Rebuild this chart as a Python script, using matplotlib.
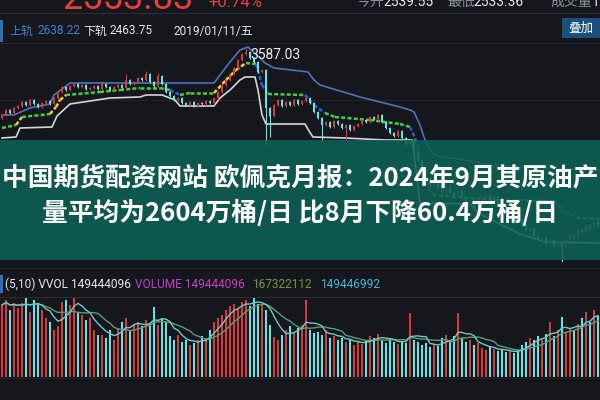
import matplotlib
matplotlib.use('Agg')
import matplotlib.pyplot as plt
import numpy as np
from matplotlib.patches import Rectangle

BG = '#15171d'
RED = '#d83a3a'
CYAN = '#62e6e6'

# ---------------- data ----------------
closes = [
    3250, 3275, 3260, 3285, 3295, 3315, 3300, 3325, 3305, 3290,
    3310, 3320, 3305, 3335, 3365, 3390, 3375, 3395, 3405, 3390,
    3400, 3380, 3385, 3395, 3380, 3405, 3390, 3375, 3390, 3400,
    3385, 3425, 3405, 3415, 3435, 3425, 3455, 3415, 3395, 3445,
    3405, 3365, 3345, 3325, 3335, 3310, 3300, 3315, 3295, 3310,
    3305, 3320, 3310, 3335, 3365, 3400, 3425, 3455, 3485, 3525,
    3555, 3565, 3535, 3515, 3465, 3475, 3285, 3245, 3300, 3325,
    3295, 3315, 3300, 3325, 3305, 3320, 3335, 3310, 3265, 3235,
    3200, 3215, 3190, 3220, 3205, 3185, 3200, 3175, 3195, 3205,
    3225, 3215, 3240, 3230, 3250, 3215, 3185, 3160, 3145, 3170,
    3135, 3105, 3125, 3065, 3025, 2975, 2935, 2900, 2925, 2885,
    2865, 2895, 2860, 2840, 2875, 2835, 2805, 2825, 2790, 2815,
    2835, 2850, 2825, 2845, 2810, 2790, 2765, 2780, 2745, 2725,
    2700, 2675, 2685, 2645, 2625, 2635, 2605, 2625, 2595, 2615,
    2585, 2625, 2650, 2635, 2675, 2665, 2700, 2685, 2715, 2695,
]
first_open = 3235
special_high = {25: 3420, 31: 3455, 36: 3470, 39: 3460, 61: 3587.03}
special_low = {66: 3100, 67: 3140, 80: 3125, 86: 3125, 140: 2515}

volumes = [
    360, 385, 335, 370, 345, 370, 395, 325, 385, 360,
    335, 295, 275, 235, 255, 375, 385, 360, 395, 325,
    310, 285, 295, 235, 210, 210, 195, 235, 185, 245,
    275, 295, 235, 260, 275, 255, 285, 265, 350, 260,
    295, 275, 205, 185, 210, 175, 185, 160, 170, 185,
    205, 195, 235, 275, 295, 310, 335, 355, 365, 345,
    375, 385, 355, 395, 365, 360, 335, 260, 200, 185,
    210, 235, 255, 225, 245, 260, 385, 235, 220, 225,
    210, 235, 195, 205, 185, 195, 175, 185, 160, 175,
    165, 185, 205, 195, 215, 185, 170, 195, 175, 165,
    180, 170, 320, 185, 175, 160, 170, 150, 165, 155,
    195, 210, 185, 205, 320, 195, 175, 185, 160, 170,
    145, 135, 150, 140, 130, 135, 125, 130, 120, 135,
    160, 175, 195, 185, 205, 195, 215, 275, 205, 235,
    300, 225, 245, 235, 265, 295, 325, 275, 335, 305,
]

upper_idx = [0, 3, 7, 12, 13, 17, 53, 54.5, 57, 59.5, 61.5, 64.5, 65.75, 68, 74.5,
             76.5, 78, 79.5, 84.5, 89.5, 94.5, 99.5, 102, 103, 104.5, 105.75, 107.5,
             109.5, 114.5, 122, 129.5, 149.5]
upper_val = [3250, 3250, 3285, 3305, 3350, 3410, 3410, 3450, 3515, 3575, 3590, 3535,
             3510, 3485, 3470, 3465, 3425, 3400, 3370, 3340, 3315, 3290, 3275, 3265,
             3200, 3125, 3060, 3040, 3030, 3000, 2990, 2975]

mid_idx = [0, 3.5, 5, 12, 13.5, 14.5, 16, 24.5, 29.5, 34.5, 39.5, 42, 44.5, 47, 53,
           56, 58.5, 61, 63.5, 65, 66.5, 75.75, 78, 80.75, 83.25, 92, 99.5, 102, 104,
           105, 107.75, 117, 124.5, 138.25, 140.75, 143.75, 149.5]
mid_val = [3185, 3200, 3240, 3255, 3290, 3325, 3350, 3365, 3375, 3385, 3385, 3375,
           3350, 3360, 3360, 3425, 3475, 3510, 3505, 3400, 3355, 3350, 3300, 3260,
           3240, 3225, 3205, 3190, 3100, 2975, 2850, 2835, 2825, 2820, 2765, 2735, 2730]

lower_idx = [0, 3.5, 4.5, 12.5, 13.75, 17, 27, 34.5, 36, 40, 43.25, 44.5, 53, 54.5,
             57, 59.5, 60.75, 63.25, 64, 65, 66, 75.75, 76.75, 77.75, 85.75, 95.75,
             102.5, 103.5, 104.5, 117, 119.5, 124.5, 129.5, 135.75, 149.5]
lower_val = [3135, 3140, 3185, 3190, 3245, 3305, 3335, 3340, 3350, 3350, 3325, 3295,
             3295, 3335, 3375, 3425, 3440, 3440, 3375, 3250, 3205, 3205, 3170, 3140,
             3135, 3125, 3125, 2975, 2810, 2805, 2755, 2705, 2655, 2615, 2610]

# ---------------- figure ----------------
plt.rcParams['font.family'] = ['Roboto', 'Noto Sans CJK SC', 'DejaVu Sans']
fig = plt.figure(figsize=(6, 4), dpi=100, facecolor=BG)

ax_bg = fig.add_axes([0, 0, 1, 1])
ax_bg.set_xlim(0, 600)
ax_bg.set_ylim(400, 0)
ax_bg.axis('off')
ax_bg.set_facecolor(BG)

# separator / grid lines
for yy, c in [(13, '#2b2e36'), (43, '#24272e'), (100, '#202329'), (155, '#202329'),
              (210, '#202329'), (268, '#23262d'), (297, '#2a2d34'), (378, '#22252b')]:
    ax_bg.plot([0, 600], [yy, yy], color=c, lw=0.8)

# header top row (partly cut off, as in the screenshot)
ax_bg.text(62, 9, '2553.83', color='#e5403b', fontsize=26, va='baseline', ha='left')
ax_bg.text(208, 7, '+0.74%', color='#e5403b', fontsize=12, va='baseline', ha='left')
for x, s, c in [(357, '今开', '#8b9099'), (383, '2539.55', '#e6e6e6'),
                (447, '最低', '#8b9099'), (473, '2533.36', '#e6e6e6'),
                (550, '成交量', '#8b9099'), (592, '1.', '#e6e6e6')]:
    ax_bg.text(x, 6, s, color=c, fontsize=10, va='baseline', ha='left')

# header second row
ax_bg.add_patch(Rectangle((0, 20), 3, 22, color='#2c6fb3', lw=0))
for x, s, c in [(9, '上轨', '#3f7fd0'), (37, '2638.22', '#3f7fd0'),
                (83, '下轨', '#e6e6e6'), (110, '2463.75', '#e6e6e6'),
                (173, '2019/01/11/五', '#e6e6e6')]:
    ax_bg.text(x, 31, s, color=c, fontsize=8.6, va='center', ha='left')
ax_bg.add_patch(Rectangle((562, 18), 40, 20, color='#1b4f7d', lw=0))
ax_bg.text(581, 28, '叠加', color='white', fontsize=9, va='center', ha='center')

# volume header
ax_bg.add_patch(Rectangle((0, 275), 3, 18, color='#2c6fb3', lw=0))
for x, s, c in [(5, '(5,10) VVOL 149444096', '#e6e6e6'),
                (135, 'VOLUME 149444096', '#c23fc9'),
                (252, '167322112', '#6f9a3c'),
                (320, '149446992', '#3fb6d6')]:
    ax_bg.text(x, 284, s, color=c, fontsize=8.6, va='center', ha='left')

# ---------------- price panel ----------------
ax_p = fig.add_axes([0, 1 - 262 / 400, 1, (262 - 45) / 400])
ax_p.set_xlim(-0.5, len(closes) - 0.5)
ax_p.set_ylim(2515, 3600)
ax_p.axis('off')
ax_p.patch.set_alpha(0)

closes_a = np.array(closes, dtype=float)
opens_a = np.concatenate([[first_open], closes_a[:-1]])
idx = np.arange(len(closes_a))
up = closes_a >= opens_a
cols = np.where(up, RED, CYAN)
WICK = 6
highs = np.maximum(opens_a, closes_a) + WICK
lows = np.minimum(opens_a, closes_a) - WICK
for k, v in special_high.items():
    highs[k] = v
for k, v in special_low.items():
    lows[k] = v

# bands
ax_p.plot(upper_idx, upper_val, color='#4f73b8', lw=1.2, zorder=2)
ax_p.plot(lower_idx, lower_val, color='#d6d6d6', lw=1.2, zorder=2)
for i in range(len(mid_idx) - 1):
    slope = (mid_val[i + 1] - mid_val[i]) / (mid_idx[i + 1] - mid_idx[i])
    if slope > 8:
        c = '#f2d22a'
    elif slope < -8:
        c = '#2c5fd6'
    else:
        c = '#46cf3a'
    ax_p.plot(mid_idx[i:i + 2], mid_val[i:i + 2], color=c, lw=1.8,
              linestyle=(0, (1.6, 0.9)), zorder=2, solid_capstyle='butt')

ax_p.vlines(idx, lows, highs, colors=cols, lw=0.8, zorder=3)
body_bottom = np.minimum(opens_a, closes_a)
body_h = np.maximum(np.abs(closes_a - opens_a), 3)
ax_p.bar(idx, body_h, bottom=body_bottom, width=0.62, color=cols, lw=0, zorder=4)

peak_i = max(special_high, key=lambda k: special_high[k])
ax_p.annotate(f'{special_high[peak_i]:.2f}', xy=(peak_i, special_high[peak_i]),
              xytext=(3, -5), textcoords='offset points', color='#eeeeee',
              fontsize=10, va='center', ha='left', zorder=6)

# ---------------- volume panel ----------------
ax_v = fig.add_axes([0, 1 - 377 / 400, 1, (377 - 297) / 400])
ax_v.set_xlim(-0.5, len(volumes) - 0.5)
ax_v.set_ylim(0, 400)
ax_v.axis('off')
ax_v.patch.set_alpha(0)
vol = np.array(volumes, dtype=float)
ax_v.bar(idx, vol, width=0.62, color=cols, lw=0)


def ma(a, n):
    out = np.empty_like(a)
    for i in range(len(a)):
        out[i] = a[max(0, i - n + 1):i + 1].mean()
    return out


ax_v.plot(idx, ma(vol, 10), color='#5b9c70', lw=1.0)
ax_v.plot(idx, ma(vol, 5), color='#6cc9c9', lw=1.0)

# ---------------- banner overlay ----------------
ax_top = fig.add_axes([0, 0, 1, 1])
ax_top.set_xlim(0, 600)
ax_top.set_ylim(400, 0)
ax_top.axis('off')
ax_top.patch.set_alpha(0)
ax_top.add_patch(Rectangle((0, 140), 600, 120, color='#0e6156', alpha=0.88, lw=0))
line1 = '中国期货配资网站 欧佩克月报：2024年9月其原油产'
line2 = '量平均为2604万桶/日 比8月下降60.4万桶/日'
for y, s in [(178, line1), (213, line2)]:
    ax_top.text(300, y, s, color='white', fontsize=18.5, fontweight='bold',
                family=['Noto Sans CJK SC', 'DejaVu Sans'], ha='center', va='center')

fig.savefig('out.png', dpi=100, facecolor=BG)
